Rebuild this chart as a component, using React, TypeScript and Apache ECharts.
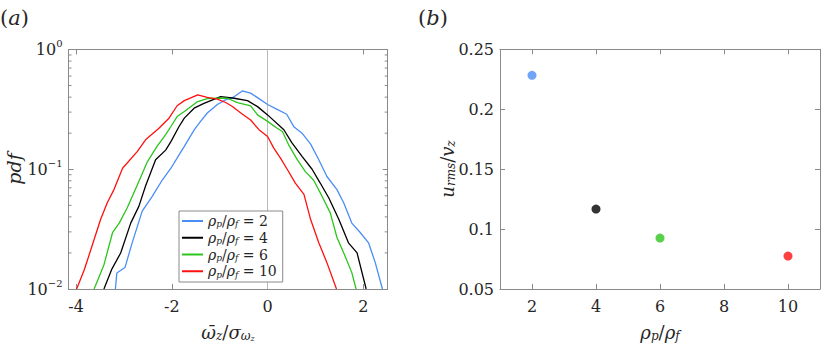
import React, { useEffect, useRef } from "react";
import * as echarts from "echarts";

// ---- data (a): pdf curves ----
const densityRatios = [2, 4, 6, 10];

const blueX = [-3.18, -3.15, -2.98, -2.83, -2.62, -2.41, -2.2, -2.02, -1.85, -1.74, -1.53, -1.4, -1.26, -1.05, -0.88, -0.7, -0.53, -0.354, -0.18, 0, 0.2, 0.4, 0.55, 0.72, 0.9, 1.07, 1.24, 1.45, 1.59, 1.76, 1.94, 2.11, 2.25, 2.4];
const blueY = [0.01, 0.0136, 0.0151, 0.0243, 0.0447, 0.0593, 0.0813, 0.102, 0.132, 0.155, 0.214, 0.251, 0.295, 0.347, 0.38, 0.403, 0.451, 0.432, 0.389, 0.347, 0.316, 0.288, 0.226, 0.2, 0.162, 0.12, 0.087, 0.0676, 0.0525, 0.0355, 0.0295, 0.0243, 0.0166, 0.01];

const blackX = [-3.42, -3.26, -3.07, -2.86, -2.69, -2.55, -2.34, -2.13, -2.02, -1.85, -1.74, -1.535, -1.33, -0.98, -0.7, -0.42, -0.21, 0, 0.34, 0.51, 0.72, 0.93, 1.1, 1.28, 1.49, 1.69, 1.87, 2.06];
const blackY = [0.01, 0.0145, 0.02, 0.0355, 0.049, 0.0724, 0.12, 0.1445, 0.17, 0.2275, 0.2673, 0.3236, 0.3548, 0.4046, 0.3917, 0.374, 0.3334, 0.2844, 0.2138, 0.166, 0.128, 0.1, 0.0767, 0.0575, 0.038, 0.0243, 0.02, 0.01];

const greenX = [-3.625, -3.42, -3.24, -3.1, -2.93, -2.72, -2.51, -2.31, -2.13, -2.02, -1.89, -1.74, -1.46, -1.26, -1.05, -0.84, -0.63, -0.354, -0.21, 0, 0.2, 0.31, 0.44, 0.62, 0.79, 0.96, 1.14, 1.31, 1.45, 1.625, 1.76, 1.85];
const greenY = [0.01, 0.0159, 0.0295, 0.0355, 0.0479, 0.0741, 0.116, 0.155, 0.195, 0.2275, 0.2754, 0.3034, 0.3673, 0.389, 0.3917, 0.3917, 0.3606, 0.3388, 0.2844, 0.2512, 0.2203, 0.2065, 0.16, 0.1202, 0.0955, 0.0813, 0.0593, 0.0432, 0.0269, 0.0186, 0.0137, 0.01];

const redX = [-3.99, -3.83, -3.66, -3.49, -3.35, -3.21, -3.03, -2.72, -2.55, -2.27, -2.06, -1.89, -1.74, -1.46, -1.26, -1.05, -0.875, -0.735, -0.56, -0.354, -0.18, 0, 0.13, 0.27, 0.41, 0.58, 0.76, 0.9, 1.07, 1.24, 1.44];
const redY = [0.01, 0.0145, 0.0234, 0.038, 0.0525, 0.0676, 0.102, 0.141, 0.176, 0.22, 0.267, 0.339, 0.374, 0.418, 0.398, 0.385, 0.361, 0.334, 0.295, 0.258, 0.214, 0.1875, 0.15, 0.124, 0.1, 0.0767, 0.0617, 0.038, 0.0243, 0.0166, 0.01];

// ---- data (b): u_rms / v_z ----
const urmsValues = [0.2283, 0.1167, 0.0925, 0.0775];

// ---- ticks ----
const leftXTicks = [-4, -2, 0, 2];
const rightXTicks = [2, 4, 6, 8, 10];
const logMinorTicks = [0.02, 0.03, 0.04, 0.05, 0.06, 0.07, 0.08, 0.09, 0.2, 0.3, 0.4, 0.5, 0.6, 0.7, 0.8, 0.9];

const COLORS = ["#4a8ef5", "#000000", "#2cc51c", "#ff1010"];
const AX = "#8a8a8a";
const TXT = "#262626";
const FONT = "DejaVu Serif";

const zip = (xs: number[], ys: number[]) => xs.map((x, i) => [x, ys[i]]);

export default function App() {
  const ref = useRef<HTMLDivElement>(null);

  useEffect(() => {
    if (!ref.current) return;
    const chart = echarts.init(ref.current, null, { renderer: "svg" });

    const curves = [zip(blueX, blueY), zip(blackX, blackY), zip(greenX, greenY), zip(redX, redY)];
    const names = densityRatios.map((r) => `ρp/ρf = ${r}`);

    const mathRich = {
      g: { fontSize: 18, lineHeight: 20, fontFamily: FONT, fontStyle: "italic", fill: TXT, color: TXT },
      o: { fontSize: 18, lineHeight: 20, fontFamily: FONT, fontStyle: "italic", fill: TXT, color: TXT },
      n: { fontSize: 18, lineHeight: 20, fontFamily: FONT, fill: TXT, color: TXT },
      s: { fontSize: 12, lineHeight: 10, verticalAlign: "bottom", fontFamily: FONT, fontStyle: "italic", fill: TXT, color: TXT },
      ss: { fontSize: 8, lineHeight: 5, verticalAlign: "bottom", fontFamily: FONT, fontStyle: "italic", fill: TXT, color: TXT },
    };

    const axisCommon = (gridIndex: number) => ({
      gridIndex,
      axisLine: { onZero: false, lineStyle: { color: AX, width: 1 } },
      splitLine: { show: false },
    });

    const minorTickSeries = {
      type: "custom",
      xAxisIndex: 0,
      yAxisIndex: 0,
      silent: true,
      data: logMinorTicks.map((v) => [0, v]),
      encode: { x: 0, y: 1 },
      renderItem: (params: any, api: any) => {
        const p = api.coord([0, api.value(1)]);
        const cs = params.coordSys;
        return {
          type: "group",
          children: [
            { type: "line", shape: { x1: cs.x, y1: p[1], x2: cs.x + 3, y2: p[1] }, style: { stroke: AX, lineWidth: 1 } },
            { type: "line", shape: { x1: cs.x + cs.width, y1: p[1], x2: cs.x + cs.width - 3, y2: p[1] }, style: { stroke: AX, lineWidth: 1 } },
          ],
        };
      },
    };

    const option: any = {
      animation: false,
      backgroundColor: "#ffffff",
      textStyle: { fontFamily: FONT },
      grid: [
        { left: 68.5, top: 49.5, width: 319.2, height: 239.5 },
        { left: 500, top: 49.3, width: 320, height: 239.7 },
      ],
      xAxis: [
        {
          ...axisCommon(0),
          type: "value",
          min: -4.16,
          max: 2.51,
          axisTick: { inside: true, length: 5, lineStyle: { color: AX }, customValues: leftXTicks },
          axisLabel: { customValues: leftXTicks, margin: 9, fontSize: 16, fontFamily: FONT, color: TXT },
        },
        {
          ...axisCommon(0),
          type: "value",
          position: "top",
          min: -4.16,
          max: 2.51,
          axisTick: { inside: true, length: 5, lineStyle: { color: AX }, customValues: leftXTicks },
          axisLabel: { show: false },
        },
        {
          ...axisCommon(1),
          type: "value",
          min: 1,
          max: 11,
          axisTick: { inside: true, length: 5, lineStyle: { color: AX }, customValues: rightXTicks },
          axisLabel: { customValues: rightXTicks, margin: 9, fontSize: 16, fontFamily: FONT, color: TXT },
        },
        {
          ...axisCommon(1),
          type: "value",
          position: "top",
          min: 1,
          max: 11,
          axisTick: { inside: true, length: 5, lineStyle: { color: AX }, customValues: rightXTicks },
          axisLabel: { show: false },
        },
      ],
      yAxis: [
        {
          ...axisCommon(0),
          type: "log",
          logBase: 10,
          min: 0.01,
          max: 1,
          axisTick: { inside: true, length: 5, lineStyle: { color: AX } },
          axisLabel: {
            margin: 6,
            formatter: (v: number) => {
              const e = Math.round(Math.log10(v));
              return `{b|10}{e|${e < 0 ? "−" + -e : e}}`;
            },
            rich: {
              b: { fontSize: 16, lineHeight: 22, fontFamily: FONT, color: TXT },
              e: { fontSize: 10, lineHeight: 11, verticalAlign: "top", fontFamily: FONT, color: TXT },
            },
          },
        },
        {
          ...axisCommon(0),
          type: "log",
          logBase: 10,
          position: "right",
          min: 0.01,
          max: 1,
          axisTick: { inside: true, length: 5, lineStyle: { color: AX } },
          axisLabel: { show: false },
        },
        {
          ...axisCommon(1),
          type: "value",
          min: 0.05,
          max: 0.25,
          interval: 0.05,
          axisTick: { inside: true, length: 5, lineStyle: { color: AX } },
          axisLabel: { margin: 6, fontSize: 16, fontFamily: FONT, color: TXT },
        },
        {
          ...axisCommon(1),
          type: "value",
          position: "right",
          min: 0.05,
          max: 0.25,
          interval: 0.05,
          axisTick: { inside: true, length: 5, lineStyle: { color: AX } },
          axisLabel: { show: false },
        },
      ],
      legend: {
        orient: "vertical",
        left: 179,
        top: 211,
        padding: [3, 6, 3, 3],
        itemGap: 2,
        itemWidth: 21,
        itemHeight: 2,
        icon: "rect",
        borderColor: "#8a8a8a",
        borderWidth: 1,
        borderRadius: 0,
        backgroundColor: "#ffffff",
        data: names,
        formatter: (name: string) => {
          const i = names.indexOf(name);
          return `{g|ρ}{s|p}{n|/}{g|ρ}{s|f}{n| = ${densityRatios[i]}}`;
        },
        textStyle: {
          fontFamily: FONT,
          rich: {
            g: { fontSize: 14, lineHeight: 15.5, fontFamily: FONT, fontStyle: "italic", color: TXT },
            n: { fontSize: 14, lineHeight: 15.5, fontFamily: FONT, color: TXT },
            s: { fontSize: 9, lineHeight: 9, verticalAlign: "bottom", fontFamily: FONT, fontStyle: "italic", color: TXT },
          },
        },
      },
      series: [
        ...curves.map((d, i) => ({
          name: names[i],
          type: "line",
          xAxisIndex: 0,
          yAxisIndex: 0,
          data: d,
          showSymbol: false,
          symbol: "none",
          clip: true,
          lineStyle: { color: COLORS[i], width: 1.3 },
          itemStyle: { color: COLORS[i] },
          z: 3,
          ...(i === 0
            ? {
                markLine: {
                  silent: true,
                  symbol: "none",
                  label: { show: false },
                  lineStyle: { color: "#b8b8b8", width: 1, type: "solid" },
                  data: [{ xAxis: 0 }],
                  z: 1,
                },
              }
            : {}),
        })),
        minorTickSeries,
        {
          type: "scatter",
          xAxisIndex: 2,
          yAxisIndex: 2,
          symbolSize: 9,
          data: densityRatios.map((r, i) => ({ value: [r, urmsValues[i]], itemStyle: { color: COLORS[i] } })),
        },
      ],
      graphic: [
        { type: "text", x: 0, y: 18, style: { text: "{p|(}{i|a}{p|)}", verticalAlign: "middle", rich: { p: { fontSize: 21, fontFamily: FONT, fill: TXT }, i: { fontSize: 21, fontFamily: FONT, fontStyle: "italic", fill: TXT } } } },
        { type: "text", x: 418, y: 18, style: { text: "{p|(}{i|b}{p|)}", verticalAlign: "middle", rich: { p: { fontSize: 21, fontFamily: FONT, fill: TXT }, i: { fontSize: 21, fontFamily: FONT, fontStyle: "italic", fill: TXT } } } },
        { type: "text", x: 14, y: 169, rotation: Math.PI / 2, style: { text: "pdf", align: "center", verticalAlign: "middle", fontSize: 19, fontStyle: "italic", fontFamily: FONT, fill: TXT } },
        { type: "text", x: 228, y: 332, style: { text: "{o|ω\u0304}{s|z}{n|/}{g|σ}{s|ω}{ss|z}", align: "center", verticalAlign: "middle", rich: mathRich } },
        { type: "text", x: 447, y: 169, rotation: Math.PI / 2, style: { text: "{g|u}{s|rms}{n|/}{g|v}{s|z}", align: "center", verticalAlign: "middle", rich: mathRich } },
        { type: "text", x: 660, y: 332, style: { text: "{g|ρ}{s|p}{n|/}{g|ρ}{s|f}", align: "center", verticalAlign: "middle", rich: mathRich } },
      ],
    };

    chart.setOption(option);
    return () => chart.dispose();
  }, []);

  return <div ref={ref} style={{ position: "fixed", left: 0, top: 0, width: 830, height: 344, background: "#fff" }} />;
}
